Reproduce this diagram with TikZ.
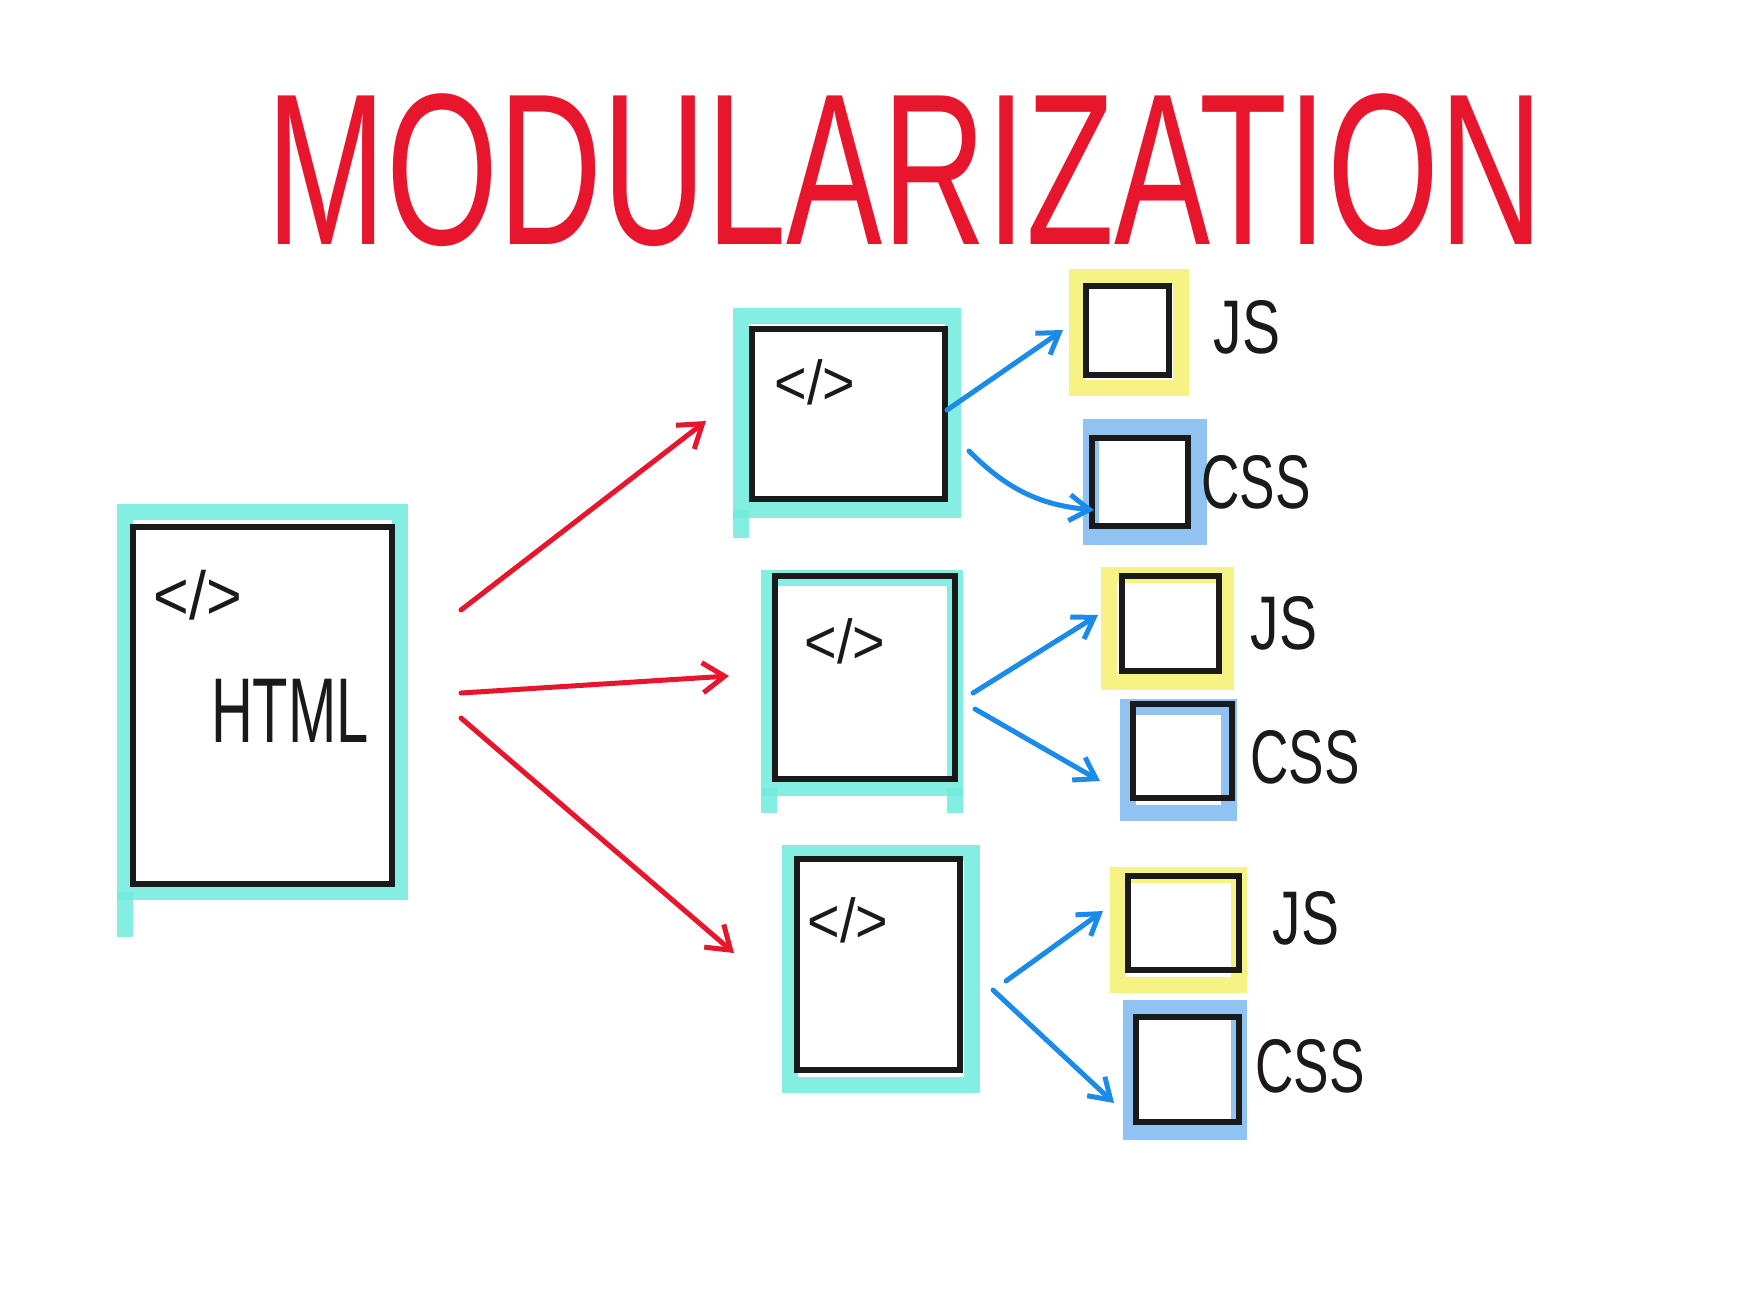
\documentclass[tikz,border=0pt]{standalone}
\usepackage{fontspec}
\setmainfont{Liberation Sans}
\usetikzlibrary{arrows.meta,backgrounds,calc}
\definecolor{hred}{RGB}{232,22,45}
\definecolor{hblue}{RGB}{26,139,232}
\definecolor{ink}{RGB}{26,26,26}
\definecolor{hcyan}{RGB}{112,236,222}
\definecolor{hyellow}{RGB}{245,240,110}
\definecolor{hlblue}{RGB}{125,184,240}
\begin{document}
\begin{tikzpicture}[x=1pt,y=-1pt,
  box/.style={draw=ink,line width=6pt,inner sep=0pt,anchor=center},
  tagtxt/.style={text=ink,inner sep=0pt},
  lbl/.style={text=ink,inner sep=0pt},
  hlc/.style={draw=hcyan,line width=16pt,opacity=0.85},
  hly/.style={draw=hyellow,line width=16pt,opacity=0.85},
  hlb/.style={draw=hlblue,line width=16pt,opacity=0.85},
  redarr/.style={draw=hred,line width=5pt,line cap=round,-{Straight Barb[length=22pt,width=30pt]}},
  bluearr/.style={draw=hblue,line width=5pt,line cap=round,-{Straight Barb[length=20pt,width=26pt]}}]
\useasboundingbox (0,0) rectangle (1738,1302);

% title
\node[text=hred,inner sep=0pt] (title) at (905,170) {\scalebox{1.2}[1.8]{\fontsize{120}{120}\selectfont MODULARIZATION}};

% HTML box
\node[box,minimum width=259pt,minimum height=357pt] (html) at (262.5,705.5) {};
\node[tagtxt] (htag) at (198,595) {\scalebox{0.9}[1]{\fontsize{68}{68}\selectfont </>}};
\node[tagtxt] (htxt) at (290,711) {\scalebox{0.63}[1]{\fontsize{92}{92}\selectfont HTML}};

% module boxes
\node[box,minimum width=193pt,minimum height=170pt] (m1) at (848.5,414) {};
\node[tagtxt] (t1) at (815,382) {\scalebox{0.9}[1]{\fontsize{62}{62}\selectfont </>}};
\node[box,minimum width=180pt,minimum height=203pt] (m2) at (865,677.5) {};
\node[tagtxt] (t2) at (845,641) {\scalebox{0.9}[1]{\fontsize{62}{62}\selectfont </>}};
\node[box,minimum width=163pt,minimum height=211pt] (m3) at (878.5,964.5) {};
\node[tagtxt] (t3) at (848,920) {\scalebox{0.9}[1]{\fontsize{62}{62}\selectfont </>}};

% small boxes
\node[box,minimum width=83pt,minimum height=89pt] (js1) at (1127.5,330.5) {};
\node[box,minimum width=96pt,minimum height=88pt] (css1) at (1140,482) {};
\node[box,minimum width=97pt,minimum height=95pt] (js2) at (1170.5,623.5) {};
\node[box,minimum width=99pt,minimum height=94pt] (css2) at (1182.5,751) {};
\node[box,minimum width=111pt,minimum height=94pt] (js3) at (1183.5,923) {};
\node[box,minimum width=103pt,minimum height=105pt] (css3) at (1187.5,1069.5) {};

% labels
\node[lbl] (l1) at (1247,327) {\scalebox{0.75}[1]{\fontsize{76}{76}\selectfont JS}};
\node[lbl] (l2) at (1256,482) {\scalebox{0.7}[1]{\fontsize{76}{76}\selectfont CSS}};
\node[lbl] (l3) at (1284,623) {\scalebox{0.75}[1]{\fontsize{76}{76}\selectfont JS}};
\node[lbl] (l4) at (1305,757) {\scalebox{0.7}[1]{\fontsize{76}{76}\selectfont CSS}};
\node[lbl] (l5) at (1306,918) {\scalebox{0.75}[1]{\fontsize{76}{76}\selectfont JS}};
\node[lbl] (l6) at (1310,1066) {\scalebox{0.7}[1]{\fontsize{76}{76}\selectfont CSS}};

% white page and highlights behind
\begin{scope}[on background layer]
\fill[white] (0,0) rectangle (1738,1302);
\draw[hlc] ([shift={(-5,-12)}]html.north west) rectangle ([shift={(5,5)}]html.south east);
\draw[hlc] ([shift={(-5,5)}]html.south west) -- ++(0,45);
\draw[hlc] ([shift={(-8,-10)}]m1.north west) rectangle ([shift={(5,8)}]m1.south east);
\draw[hlc] ([shift={(-8,8)}]m1.south west) -- ++(0,28);
\draw[hlc] ([shift={(-3,5)}]m2.north west) rectangle ([shift={(-3,6)}]m2.south east);
\draw[hlc] ([shift={(-3,6)}]m2.south west) -- ++(0,25);
\draw[hlc] ([shift={(-3,6)}]m2.south east) -- ++(0,25);
\draw[hlc] ([shift={(-4,-3)}]m3.north west) rectangle ([shift={(9,12)}]m3.south east);
\draw[hly] ([shift={(-6,-6)}]js1.north west) rectangle ([shift={(9,10)}]js1.south east);
\draw[hlb] ([shift={(2,-8)}]css1.north west) rectangle ([shift={(8,8)}]css1.south east);
\draw[hly] ([shift={(-10,2)}]js2.north west) rectangle ([shift={(4,8)}]js2.south east);
\draw[hlb] ([shift={(-2,6)}]css2.north west) rectangle ([shift={(-6,12)}]css2.south east);
\draw[hly] ([shift={(-7,2)}]js3.north west) rectangle ([shift={(-3,12)}]js3.south east);
\draw[hlb] ([shift={(-2,-6)}]css3.north west) rectangle ([shift={(-3,7)}]css3.south east);
\end{scope}

% red arrows
\draw[redarr] ([shift={(66,-95.5)}]html.east) -- ([shift={(-43,7)}]m1.west);
\draw[redarr] ([shift={(66,-12.5)}]html.east) -- ([shift={(-43,-1.5)}]m2.west);
\draw[redarr] ([shift={(66,12.5)}]html.east) -- ([shift={(-60,-11.5)}]m3.west);

% blue arrows
\draw[bluearr] ([shift={(-1,-4)}]m1.east) -- ([shift={(-20,-0.5)}]js1.west);
\draw[bluearr] ([shift={(21,37)}]m1.east) to[bend right=20] ([shift={(5,28)}]css1.west);
\draw[bluearr] ([shift={(15,15.5)}]m2.east) -- ([shift={(-21,-8.5)}]js2.west);
\draw[bluearr] ([shift={(17,31.5)}]m2.east) -- ([shift={(-30,30)}]css2.west);
\draw[bluearr] ([shift={(43,16.5)}]m3.east) -- ([shift={(-22,-12)}]js3.west);
\draw[bluearr] ([shift={(30,25.5)}]m3.east) -- ([shift={(-19,33.5)}]css3.west);
\end{tikzpicture}
\end{document}
